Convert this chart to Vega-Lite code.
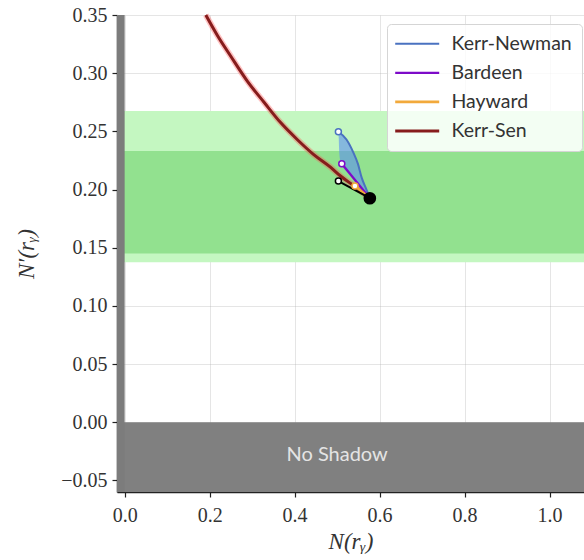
{
  "$schema": "https://vega.github.io/schema/vega-lite/v6.json",
  "width": 467,
  "height": 477,
  "autosize": {"type": "none"},
  "padding": {"left": 117, "top": 15, "right": 0, "bottom": 68},
  "background": "white",
  "datasets": {
    "kerrsen": [
      {"i": 0, "x": 0.191, "y": 0.350},
      {"i": 1, "x": 0.219, "y": 0.332},
      {"i": 2, "x": 0.249, "y": 0.315},
      {"i": 3, "x": 0.289, "y": 0.293},
      {"i": 4, "x": 0.328, "y": 0.275},
      {"i": 5, "x": 0.367, "y": 0.2575},
      {"i": 6, "x": 0.406, "y": 0.243},
      {"i": 7, "x": 0.445, "y": 0.230},
      {"i": 8, "x": 0.485, "y": 0.219},
      {"i": 9, "x": 0.508, "y": 0.2116},
      {"i": 10, "x": 0.540, "y": 0.203},
      {"i": 11, "x": 0.577, "y": 0.1925}
    ],
    "curves": [
      {"model": "Kerr-Sen", "i": 0, "x": 0.191, "y": 0.350},
      {"model": "Kerr-Sen", "i": 1, "x": 0.219, "y": 0.332},
      {"model": "Kerr-Sen", "i": 2, "x": 0.249, "y": 0.315},
      {"model": "Kerr-Sen", "i": 3, "x": 0.289, "y": 0.293},
      {"model": "Kerr-Sen", "i": 4, "x": 0.328, "y": 0.275},
      {"model": "Kerr-Sen", "i": 5, "x": 0.367, "y": 0.2575},
      {"model": "Kerr-Sen", "i": 6, "x": 0.406, "y": 0.243},
      {"model": "Kerr-Sen", "i": 7, "x": 0.445, "y": 0.230},
      {"model": "Kerr-Sen", "i": 8, "x": 0.485, "y": 0.219},
      {"model": "Kerr-Sen", "i": 9, "x": 0.508, "y": 0.2116},
      {"model": "Kerr-Sen", "i": 10, "x": 0.540, "y": 0.203},
      {"model": "Kerr-Sen", "i": 11, "x": 0.577, "y": 0.1925},
      {"model": "Kerr-Newman", "i": 0, "x": 0.503, "y": 0.2497},
      {"model": "Kerr-Newman", "i": 1, "x": 0.522, "y": 0.243},
      {"model": "Kerr-Newman", "i": 2, "x": 0.538, "y": 0.232},
      {"model": "Kerr-Newman", "i": 3, "x": 0.549, "y": 0.222},
      {"model": "Kerr-Newman", "i": 4, "x": 0.558, "y": 0.210},
      {"model": "Kerr-Newman", "i": 5, "x": 0.569, "y": 0.200},
      {"model": "Kerr-Newman", "i": 6, "x": 0.577, "y": 0.1925},
      {"model": "Bardeen", "i": 0, "x": 0.511, "y": 0.2222},
      {"model": "Bardeen", "i": 1, "x": 0.577, "y": 0.1925},
      {"model": "Hayward", "i": 0, "x": 0.542, "y": 0.203},
      {"model": "Hayward", "i": 1, "x": 0.577, "y": 0.1925}
    ],
    "region": [
      {"y": 0.2497, "xl": 0.503, "xr": 0.503},
      {"y": 0.243, "xl": 0.504, "xr": 0.522},
      {"y": 0.232, "xl": 0.505, "xr": 0.538},
      {"y": 0.222, "xl": 0.509, "xr": 0.549},
      {"y": 0.210, "xl": 0.538, "xr": 0.558},
      {"y": 0.200, "xl": 0.560, "xr": 0.569},
      {"y": 0.1925, "xl": 0.577, "xr": 0.577}
    ],
    "endpoints": [
      {"model": "Kerr-Newman", "x": 0.503, "y": 0.2497},
      {"model": "Bardeen", "x": 0.511, "y": 0.2222},
      {"model": "Hayward", "x": 0.542, "y": 0.203}
    ]
  },
  "config": {
    "view": {"stroke": null},
    "axis": {
      "zindex": 1,
      "domainColor": "#222222",
      "domainWidth": 1.5,
      "tickColor": "#222222",
      "tickSize": 5,
      "tickWidth": 1.2,
      "labelFont": "Liberation Serif",
      "labelFontSize": 20,
      "labelColor": "#333333",
      "titleFont": "Liberation Serif",
      "titleFontSize": 23,
      "titleFontStyle": "italic",
      "titleFontWeight": "normal",
      "titleColor": "#333333",
      "gridColor": "#a8a8a8",
      "gridOpacity": 0.3
    },
    "legend": {
      "orient": "none",
      "legendX": 270,
      "legendY": 9,
      "symbolType": "M-2.1,0H5.9",
      "symbolSize": 121,
      "symbolStrokeWidth": 2.5,
      "labelFont": "Lato",
      "labelFontSize": 19.5,
      "labelColor": "#333333",
      "labelOffset": 35,
      "rowPadding": 8.1,
      "padding": 10,
      "strokeColor": "#d5d5d5",
      "fillColor": "rgba(255,255,255,0.8)",
      "cornerRadius": 4
    }
  },
  "layer": [
    {
      "data": {"values": [{"y": 0.1375, "y2": 0.2675}]},
      "mark": {"type": "rect", "color": "#c4f7c1"},
      "encoding": {
        "y": {"field": "y", "type": "quantitative", "scale": {"domain": [-0.06, 0.35], "nice": false, "zero": false}},
        "y2": {"field": "y2"}
      }
    },
    {
      "data": {"values": [{"y": 0.145, "y2": 0.233}]},
      "mark": {"type": "rect", "color": "#92e18f"},
      "encoding": {
        "y": {"field": "y", "type": "quantitative", "scale": {"domain": [-0.06, 0.35], "nice": false, "zero": false}},
        "y2": {"field": "y2"}
      }
    },
    {
      "data": {"values": [{"y": -0.06, "y2": 0}]},
      "mark": {"type": "rect", "color": "#808080"},
      "encoding": {
        "y": {"field": "y", "type": "quantitative", "scale": {"domain": [-0.06, 0.35], "nice": false, "zero": false}},
        "y2": {"field": "y2"}
      }
    },
    {
      "data": {"values": [{"x": -0.018, "x2": 0}]},
      "mark": {"type": "rect", "color": "#7c7c7c"},
      "encoding": {
        "x": {"field": "x", "type": "quantitative", "scale": {"domain": [-0.018, 1.081], "nice": false, "zero": false}},
        "x2": {"field": "x2"}
      }
    },
    {
      "data": {"values": [{"x": 0.5, "y": -0.0284, "label": "No Shadow"}]},
      "mark": {"type": "text", "font": "Lato", "fontSize": 20, "color": "#e4e4e4", "align": "center", "baseline": "middle"},
      "encoding": {
        "x": {"field": "x", "type": "quantitative", "scale": {"domain": [-0.018, 1.081], "nice": false, "zero": false}},
        "y": {"field": "y", "type": "quantitative", "scale": {"domain": [-0.06, 0.35], "nice": false, "zero": false}},
        "text": {"field": "label"}
      }
    },
    {
      "data": {"name": "kerrsen"},
      "mark": {"type": "line", "color": "#ff5050", "opacity": 0.35, "strokeWidth": 6, "interpolate": "monotone"},
      "encoding": {
        "x": {"field": "x", "type": "quantitative", "scale": {"domain": [-0.018, 1.081], "nice": false, "zero": false}},
        "y": {"field": "y", "type": "quantitative", "scale": {"domain": [-0.06, 0.35], "nice": false, "zero": false}},
        "order": {"field": "i"}
      }
    },
    {
      "data": {"name": "region"},
      "mark": {"type": "area", "orient": "horizontal", "color": "#5b8ef0", "opacity": 0.6, "interpolate": "monotone"},
      "encoding": {
        "y": {"field": "y", "type": "quantitative", "scale": {"domain": [-0.06, 0.35], "nice": false, "zero": false}},
        "x": {"field": "xl", "type": "quantitative", "scale": {"domain": [-0.018, 1.081], "nice": false, "zero": false}},
        "x2": {"field": "xr"}
      }
    },
    {
      "data": {"name": "curves"},
      "mark": {"type": "line", "interpolate": "monotone"},
      "encoding": {
        "x": {
          "field": "x", "type": "quantitative",
          "scale": {"domain": [-0.018, 1.081], "nice": false, "zero": false},
          "axis": {"values": [0, 0.2, 0.4, 0.6, 0.8, 1.0], "format": ".1f", "title": "N(rᵧ)", "labelPadding": 8, "titlePadding": 5}
        },
        "y": {
          "field": "y", "type": "quantitative",
          "scale": {"domain": [-0.06, 0.35], "nice": false, "zero": false},
          "axis": {"values": [-0.05, 0, 0.05, 0.1, 0.15, 0.2, 0.25, 0.3, 0.35], "format": ".2f", "title": "N′(rᵧ)", "labelPadding": 5, "titlePadding": 22}
        },
        "color": {
          "field": "model", "type": "nominal",
          "scale": {"domain": ["Kerr-Newman", "Bardeen", "Hayward", "Kerr-Sen"], "range": ["#4a72c0", "#7d0ac8", "#f2a93b", "#861c1c"]},
          "legend": {"title": null, "symbolType": "M-2.1,0H5.9", "symbolSize": 121}
        },
        "strokeWidth": {
          "field": "model", "type": "nominal",
          "scale": {"domain": ["Kerr-Newman", "Bardeen", "Hayward", "Kerr-Sen"], "range": [2, 3, 3, 2.5]},
          "legend": null
        },
        "order": {"field": "i"}
      }
    },
    {
      "data": {"values": [{"i": 0, "x": 0.503, "y": 0.2073}, {"i": 1, "x": 0.577, "y": 0.1925}]},
      "mark": {"type": "line", "color": "#000000", "strokeWidth": 2},
      "encoding": {
        "x": {"field": "x", "type": "quantitative", "scale": {"domain": [-0.018, 1.081], "nice": false, "zero": false}},
        "y": {"field": "y", "type": "quantitative", "scale": {"domain": [-0.06, 0.35], "nice": false, "zero": false}},
        "order": {"field": "i"}
      }
    },
    {
      "data": {"name": "endpoints"},
      "mark": {"type": "point", "shape": "circle", "filled": false, "fill": "white", "fillOpacity": 1, "size": 36, "strokeWidth": 1.5},
      "encoding": {
        "x": {"field": "x", "type": "quantitative", "scale": {"domain": [-0.018, 1.081], "nice": false, "zero": false}},
        "y": {"field": "y", "type": "quantitative", "scale": {"domain": [-0.06, 0.35], "nice": false, "zero": false}},
        "stroke": {
          "field": "model", "type": "nominal",
          "scale": {"domain": ["Kerr-Newman", "Bardeen", "Hayward"], "range": ["#4a72c0", "#7d0ac8", "#f2a93b"]},
          "legend": null
        }
      }
    },
    {
      "data": {"values": [{"x": 0.503, "y": 0.2073}]},
      "mark": {"type": "point", "shape": "circle", "filled": false, "fill": "white", "fillOpacity": 1, "stroke": "#000000", "size": 36, "strokeWidth": 1.5},
      "encoding": {
        "x": {"field": "x", "type": "quantitative", "scale": {"domain": [-0.018, 1.081], "nice": false, "zero": false}},
        "y": {"field": "y", "type": "quantitative", "scale": {"domain": [-0.06, 0.35], "nice": false, "zero": false}}
      }
    },
    {
      "data": {"values": [{"x": 0.577, "y": 0.1925}]},
      "mark": {"type": "point", "shape": "circle", "filled": true, "color": "#000000", "opacity": 1, "size": 160},
      "encoding": {
        "x": {"field": "x", "type": "quantitative", "scale": {"domain": [-0.018, 1.081], "nice": false, "zero": false}},
        "y": {"field": "y", "type": "quantitative", "scale": {"domain": [-0.06, 0.35], "nice": false, "zero": false}}
      }
    },
    {
      "mark": {"type": "rule", "color": "#222222", "strokeWidth": 1.5},
      "encoding": {
        "y": {"datum": 0.35, "type": "quantitative", "scale": {"domain": [-0.06, 0.35], "nice": false, "zero": false}}
      }
    }
  ]
}
